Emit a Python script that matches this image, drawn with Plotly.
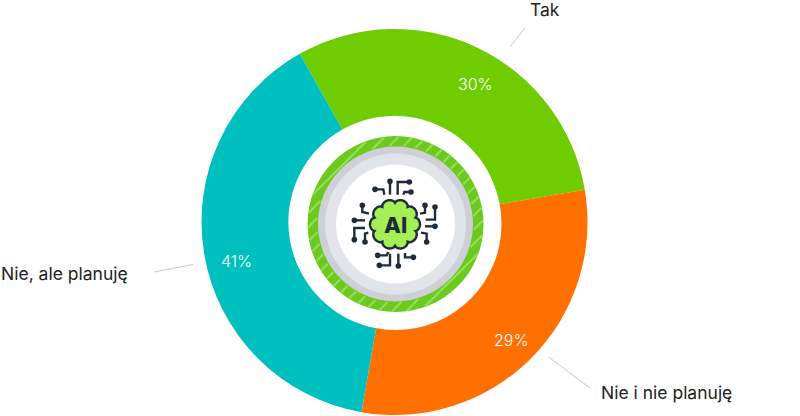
import numpy as np
import plotly.graph_objects as go

labels = ["Tak", "Nie i nie planuję", "Nie, ale planuję"]
values = [30.5, 30.4, 39.1]
texts = ["30%", "29%", "41%"]
colors = ["#6ECC00", "#FF7000", "#00BFBF"]

W, H = 800, 416
CX, CY = 394.5, 222.0
R = 193.0
ICX, ICY = 395.5, 224.0
DARK = "#1E2B3A"


def px(x):
    return x / W


def py(y):
    return 1 - y / H


def circle(cx, cy, r, fill, line=None, width=0):
    return dict(
        type="circle", xref="paper", yref="paper", layer="above",
        x0=px(cx - r), x1=px(cx + r), y0=py(cy + r), y1=py(cy - r),
        fillcolor=fill, line=dict(color=line or fill, width=width),
    )


def path(points, color, width=1.0, fill=None, closed=False):
    d = "M " + " L ".join(f"{px(x):.5f},{py(y):.5f}" for x, y in points)
    if closed:
        d += " Z"
    return dict(
        type="path", xref="paper", yref="paper", layer="above", path=d,
        fillcolor=fill or "rgba(0,0,0,0)", line=dict(color=color, width=width),
    )


fig = go.Figure()

fig.add_trace(
    go.Pie(
        labels=labels,
        values=values,
        textinfo="none",
        marker=dict(colors=colors, line=dict(width=0)),
        hole=0.55,
        sort=False,
        direction="clockwise",
        rotation=330.6,
        showlegend=False,
        domain=dict(
            x=[(CX - R) / W, (CX + R) / W],
            y=[(H - CY - R) / H, (H - CY + R) / H],
        ),
    )
)

shapes = []

# leader lines
shapes.append(path([(510, 47), (525, 28)], "#C9C9C9"))
shapes.append(path([(154, 272), (193, 264.5)], "#C9C9C9"))
shapes.append(path([(548.5, 357), (590, 388)], "#C9C9C9"))

# badge in the hole
shapes.append(circle(ICX, ICY, 106, "#FFFFFF"))
shapes.append(circle(ICX, ICY, 88, "#6CC91E"))

# diagonal stripes on the green ring
r0, r1 = 78.5, 87.5
stripes = ""
for c in np.arange(-126, 127, 14):
    # line x + y = c in centre coordinates, t runs along the line
    mid = c / np.sqrt(2)
    for sign in (-1, 1):
        if abs(mid) >= r1:
            continue
        t1 = np.sqrt(r1**2 - mid**2)
        t0 = np.sqrt(max(r0**2 - mid**2, 0))
        pts = []
        for t in (t0, t1):
            x = ICX + (mid + sign * t) / np.sqrt(2)
            y = ICY + (mid - sign * t) / np.sqrt(2)
            pts.append(f"{px(x):.5f},{py(y):.5f}")
        stripes += f"M {pts[0]} L {pts[1]} "
shapes.append(
    dict(
        type="path", xref="paper", yref="paper", layer="above", path=stripes,
        line=dict(color="#9ADD5C", width=2),
    )
)

shapes.append(circle(ICX, ICY, 77.5, "#CDD0D6"))
shapes.append(circle(ICX, ICY, 70.5, "#E1E4E9"))
shapes.append(circle(ICX, ICY, 59.5, "#FFFFFF"))

# circuit traces, in icon crop coordinates (3x, origin 345,172)
traces = [
    [(135, 28), (135, 68)],
    [(90, 52), (115, 52), (118, 68)],
    [(193, 30), (158, 30), (158, 68)],
    [(198, 60), (178, 60), (175, 68)],
    [(52, 100), (52, 120), (72, 125)],
    [(28, 145), (60, 145)],
    [(28, 203), (28, 168), (60, 168)],
    [(60, 210), (60, 185), (70, 182)],
    [(240, 100), (240, 122), (225, 125)],
    [(270, 105), (270, 143), (242, 143)],
    [(270, 163), (240, 163)],
    [(245, 210), (245, 185), (228, 182)],
    [(98, 250), (125, 250), (130, 240)],
    [(103, 280), (135, 280), (135, 245)],
    [(160, 282), (160, 245)],
    [(205, 256), (180, 256), (180, 243)],
]
for tr in traces:
    pts = [(345 + x / 3, 172 + y / 3) for x, y in tr]
    shapes.append(path(pts, DARK, width=2.4))
    shapes.append(circle(pts[0][0], pts[0][1], 2.8, DARK))

# brain outline, ten lobes with a notch at the top
theta = np.linspace(0, 2 * np.pi, 181)[:-1]
rad = 21.5 + 3.5 * np.abs(np.sin(5 * theta)) ** 0.6
brain = [(395 + r * np.sin(t), 224.3 - r * np.cos(t)) for r, t in zip(rad, theta)]
shapes.append(path(brain, DARK, width=2.4, fill="#A6EE55", closed=True))

annotations = [
    dict(
        text="AI", x=px(395), y=py(224.5), xref="paper", yref="paper",
        showarrow=False, xanchor="center", yanchor="middle",
        font=dict(family="Inter", size=22, color=DARK, weight=800),
    )
]

# percentage labels
for t, x, y in zip(texts, [475, 511, 236], [84, 340, 261]):
    annotations.append(
        dict(
            text=t, x=px(x), y=py(y), xref="paper", yref="paper",
            showarrow=False, xanchor="center", yanchor="middle",
            font=dict(family="Inter", size=16, color="#FFFFFF", weight=300),
        )
    )

# category labels
for t, x, y in zip(labels, [528, 599, -1], [9, 392, 273]):
    annotations.append(
        dict(
            text=t, x=px(x), y=py(y), xref="paper", yref="paper",
            showarrow=False, xanchor="left", yanchor="middle",
            font=dict(family="Inter", size=17.5, color="#222222"),
        )
    )

fig.update_layout(
    width=W,
    height=H,
    margin=dict(l=0, r=0, t=0, b=0),
    paper_bgcolor="white",
    shapes=shapes,
    annotations=annotations,
)

fig.write_html(
    "out.html",
    config=dict(displayModeBar=False),
    post_script="document.body.style.margin = '0';",
)
